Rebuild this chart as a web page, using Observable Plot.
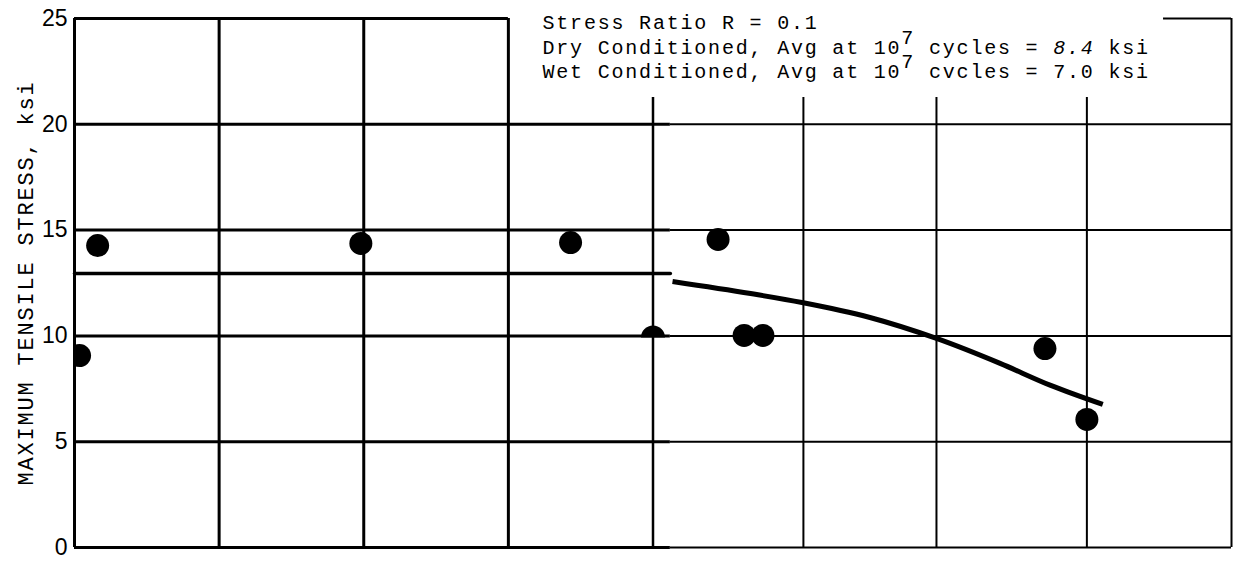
<!DOCTYPE html>
<html>
<head>
<meta charset="utf-8">
<script src="https://cdn.jsdelivr.net/npm/d3@7"></script>
<script src="https://cdn.jsdelivr.net/npm/@observablehq/plot@0.6"></script>
<style>
  html, body { margin: 0; padding: 0; background: #fff; }
  svg { display: block; }
  .note text { letter-spacing: 1.8px; }
  .ylab text { letter-spacing: 1.8px; }
</style>
</head>
<body>
<div id="chart"></div>
<script>
// ---- data ----
// x: position along the (unlabelled) cycles axis, in grid units; y: max tensile stress, ksi
const yTicks = [0, 5, 10, 15, 20, 25];
const gridXLeft = [0, 1, 2, 3];
const gridXSeam = [4];
const gridXRight = [5.04, 5.96, 7.0];
const gridXEdge = [8];

const dotX = [0.035, 0.16, 1.98, 3.43, 4.45, 4.63, 4.76, 6.71, 7.0];
const dotY = [9.07, 14.27, 14.37, 14.41, 14.56, 10.02, 10.02, 9.40, 6.05];
const halfDotX = [4.0];
const halfDotY = [9.92];

const plateauX = [0, 4.12];
const plateauY = [12.95, 12.95];

const curveX = [4.135, 4.675, 5.03, 5.5, 5.96, 6.4, 6.75, 7.11];
const curveY = [12.57, 12.0, 11.58, 10.87, 9.88, 8.70, 7.66, 6.76];

const noteLines = [
  "Stress Ratio R = 0.1",
  "Dry Conditioned, Avg at 10^7 cycles = *8.4* ksi",
  "Wet Conditioned, Avg at 10^7 cvcles = 7.0 ksi"
];
const yLabel = "MAXIMUM TENSILE STRESS, ksi";

// ---- layout helpers (picture features in data units) ----
const seamX = 4.12, boxLeftX = 3.0, boxRightX = 7.53, boxBottomY = 21.27;

const dots = dotX.map((x, i) => ({x, y: dotY[i]}));
const halfDots = halfDotX.map((x, i) => ({x, y: halfDotY[i]}));
const plateau = plateauX.map((x, i) => ({x, y: plateauY[i]}));
const curve = curveX.map((x, i) => ({x, y: curveY[i]}));

const halfCircle = {
  draw(context, size) {
    const r = Math.sqrt(size / Math.PI);
    context.moveTo(r, 0);
    context.arc(0, 0, r, 0, Math.PI, true);
    context.closePath();
  }
};

const mono = "Liberation Mono, DejaVu Sans Mono, monospace";
const noteBaselines = [-4, 21, 45];

const chart = Plot.plot({
  width: 1233,
  height: 561,
  marginLeft: 74,
  marginRight: 2,
  marginTop: 18,
  marginBottom: 14,
  style: {fontFamily: "Liberation Sans, Arial, sans-serif", fontSize: "23px", color: "#000", background: "#fff"},
  x: {domain: [0, 8], axis: null},
  y: {domain: [0, 25], ticks: yTicks, tickSize: 0, tickPadding: 7, label: null},
  marks: [
    Plot.ruleY(yTicks, {x1: () => 0, x2: d => d === 25 ? boxLeftX : seamX, stroke: "#000", strokeWidth: 3}),
    Plot.ruleY(yTicks.filter(d => d < 25), {x1: () => seamX, x2: () => 8, stroke: "#000", strokeWidth: 2}),
    Plot.ruleY([25], {x1: () => boxRightX, x2: () => 8, stroke: "#000", strokeWidth: 2}),
    Plot.ruleX(gridXLeft, {y1: () => 0, y2: () => 25, stroke: "#000", strokeWidth: 3}),
    Plot.ruleX(gridXSeam, {y1: () => 0, y2: () => boxBottomY, stroke: "#000", strokeWidth: 2.5}),
    Plot.ruleX(gridXRight, {y1: () => 0, y2: () => boxBottomY, stroke: "#000", strokeWidth: 2}),
    Plot.ruleX(gridXEdge, {y1: () => 0, y2: () => 25, stroke: "#000", strokeWidth: 2}),
    Plot.line(plateau, {x: "x", y: "y", stroke: "#000", strokeWidth: 3.5}),
    Plot.line(curve, {x: "x", y: "y", curve: "monotone-x", stroke: "#000", strokeWidth: 5, strokeLinecap: "butt"}),
    Plot.dot(dots, {x: "x", y: "y", r: 11.5, fill: "#000", stroke: null, clip: true}),
    Plot.dot(halfDots, {x: "x", y: "y", r: 12, symbol: halfCircle, fill: "#000", stroke: null}),
    ...noteLines.map((line, i) => Plot.text([line], {
      frameAnchor: "top-left", dx: 468, dy: noteBaselines[i], lineAnchor: "top",
      textAnchor: "start", fontFamily: mono, fontSize: 20, fill: "#000", className: "note"
    })),
    Plot.text([yLabel], {
      frameAnchor: "left", dx: -49, rotate: -90, textAnchor: "middle",
      fontFamily: mono, fontSize: 22, fill: "#000", className: "ylab"
    })
  ]
});

// superscripts and italics inside the note lines
d3.select(chart).selectAll(".note text").each(function() {
  const el = d3.select(this);
  const raw = this.textContent;
  const parts = raw.split(/(\^\d+|\*[^*]+\*)/).filter(s => s.length);
  el.text(null);
  let raised = false;
  for (const p of parts) {
    const t = el.append("tspan");
    if (p.startsWith("^")) {
      t.attr("dy", "-0.5em").text(p.slice(1));
      raised = true;
    } else {
      if (raised) { t.attr("dy", "0.5em"); raised = false; }
      if (p.startsWith("*")) t.attr("font-style", "italic").text(p.slice(1, -1));
      else t.text(p);
    }
  }
});

document.getElementById("chart").appendChild(chart);
</script>
</body>
</html>
